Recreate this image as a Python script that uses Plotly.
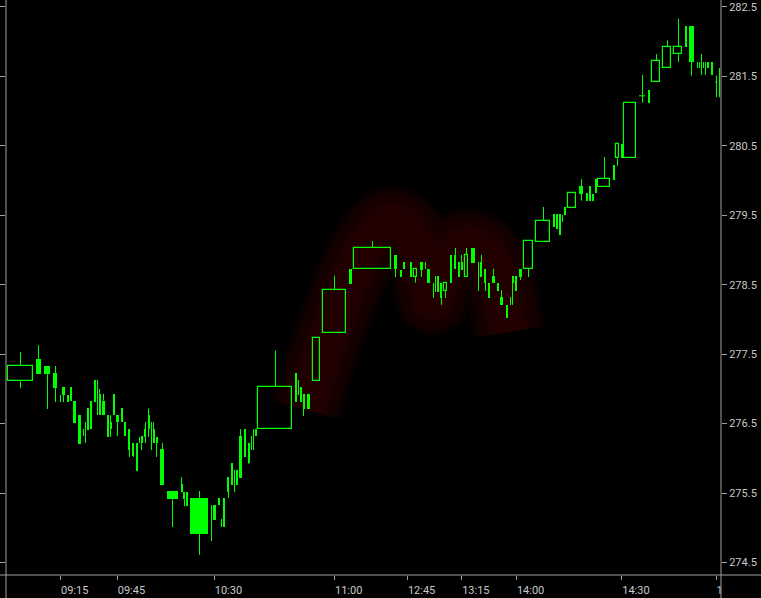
import numpy as np
import plotly.graph_objects as go

# ---------------- data ----------------
volume = [28, 8, 9, 7, 2, 5, 3, 3, 5, 5,
          2, 2, 3, 4, 3, 2, 3, 5, 3, 3,
          3, 5, 3, 4, 4, 4, 3, 2, 3, 4,
          3, 2, 2.5, 4.5, 7, 14, 2.5, 2.5, 4, 21,
          2, 5, 3, 2, 4, 4, 3, 2, 3, 5,
          4, 3, 2, 2, 3, 37, 3, 2, 2.5, 4.5,
          6, 10, 26, 5, 40, 6, 3, 3.5, 3.5, 4,
          6, 5, 2, 6, 2, 2, 3, 4, 6, 4,
          4, 2.5, 4.5, 6, 7, 2, 4, 4.5, 3.5, 5,
          2.5, 6.5, 4, 2, 3.5, 3.5, 5, 12, 17, 3,
          3, 3, 2, 4, 11, 7, 3, 3, 3, 3,
          15, 3, 5, 3, 15, 9, 4, 11, 11, 11,
          4, 8, 2, 2, 2, 2, 2, 4, 4, 4,
          3]

open_p = [277.11, 277.43, 277.33, 277.23, 276.91, 277.03, 276.91, 277.03, 276.83, 276.62,
          276.42, 276.22, 276.72, 276.83, 277.13, 277.13, 276.93, 276.83, 276.62, 276.52,
          276.93, 276.62, 276.72, 276.52, 276.42, 276.22, 276.22, 276.31, 276.22, 276.31,
          276.62, 276.52, 276.42, 276.31, 276.13, 275.53, 275.52, 275.41, 275.31, 275.43,
          275.33, 275.33, 275.43, 275.13, 275.43, 275.52, 275.93, 275.83, 275.83, 276.32,
          276.42, 276.22, 276.32, 276.42, 276.42, 276.42, 277.23, 277.13, 277.03, 276.93,
          276.93, 277.11, 277.81, 278.73, 278.73, 278.93, 278.71, 278.83, 278.78, 278.83,
          278.61, 278.83, 278.83, 278.73, 278.53, 278.63, 278.63, 278.53, 278.41, 278.93,
          278.93, 278.83, 278.83, 278.61, 279.03, 278.83, 278.83, 278.73, 278.53, 278.63,
          278.41, 278.32, 278.21, 278.32, 278.63, 278.63, 278.73, 278.73, 279.12, 279.52,
          279.52, 279.52, 279.50, 279.62, 279.60, 279.92, 279.82, 279.92, 279.81, 280.02,
          279.91, 280.22, 280.32, 280.53, 280.32, 281.22, 281.30, 281.42, 281.62, 281.82,
          282.23, 282.23, 281.71, 281.71, 281.82, 281.71, 281.71, 281.71, 281.71, 281.42,
          281.62]

high_p = [277.53, 277.63, 277.33, 277.33, 276.91, 277.03, 276.91, 277.03, 276.83, 276.62,
          276.42, 276.52, 276.72, 276.83, 277.13, 277.13, 277.00, 276.93, 276.62, 276.62,
          276.93, 276.62, 276.72, 276.52, 276.42, 276.22, 276.22, 276.31, 276.32, 276.52,
          276.72, 276.52, 276.52, 276.31, 276.22, 275.53, 275.73, 275.52, 275.52, 275.53,
          275.33, 275.33, 275.43, 275.13, 275.43, 275.73, 275.93, 275.83, 275.83, 276.42,
          276.42, 276.22, 276.32, 276.42, 276.42, 277.55, 277.23, 277.13, 277.03, 276.93,
          276.93, 277.73, 278.63, 278.73, 279.13, 278.93, 278.71, 278.83, 278.78, 278.83,
          278.73, 278.83, 278.83, 278.73, 278.53, 278.63, 278.63, 278.53, 278.53, 278.93,
          279.03, 278.83, 278.93, 279.03, 279.03, 278.83, 278.93, 278.73, 278.53, 278.73,
          278.53, 278.42, 278.21, 278.32, 278.63, 278.63, 278.73, 279.13, 279.62, 279.52,
          279.52, 279.52, 279.50, 279.62, 279.82, 280.02, 279.82, 279.92, 279.81, 280.02,
          280.34, 280.22, 280.53, 280.53, 281.12, 281.52, 281.30, 281.82, 282.02, 282.33,
          282.23, 282.23, 281.71, 281.71, 281.82, 281.71, 281.71, 281.71, 281.71, 281.51,
          281.62]

low_p = [277.01, 277.21, 276.71, 276.81, 276.81, 276.81, 276.81, 276.83, 276.51, 276.21,
         276.32, 276.22, 276.41, 276.42, 276.81, 276.62, 276.62, 276.62, 276.31, 276.31,
         276.62, 276.32, 276.52, 276.32, 276.02, 276.02, 275.82, 276.22, 276.12, 276.22,
         276.31, 276.12, 276.22, 276.02, 275.62, 275.01, 275.52, 275.31, 275.31, 274.61,
         274.81, 275.11, 275.33, 275.01, 275.01, 275.43, 275.62, 275.52, 275.62, 275.72,
         276.02, 275.92, 276.12, 276.12, 276.32, 276.42, 276.81, 276.91, 276.81, 276.61,
         276.71, 277.11, 277.81, 278.51, 278.73, 278.61, 278.61, 278.73, 278.78, 278.61,
         278.53, 278.61, 278.73, 278.53, 278.31, 278.40, 278.40, 278.21, 278.31, 278.53,
         278.73, 278.61, 278.71, 278.61, 278.81, 278.41, 278.61, 278.41, 278.31, 278.53,
         278.41, 278.21, 278.02, 278.21, 278.21, 278.41, 278.57, 278.61, 279.12, 279.33,
         279.30, 279.22, 279.40, 279.50, 279.60, 279.71, 279.71, 279.71, 279.71, 279.82,
         279.91, 280.01, 280.21, 280.32, 280.32, 281.12, 281.12, 281.42, 281.62, 281.71,
         281.92, 281.51, 281.62, 281.62, 281.52, 281.62, 281.52, 281.62, 281.52, 281.20,
         281.20]

close_p = [277.33, 277.21, 277.21, 277.01, 276.81, 276.91, 276.81, 276.83, 276.51, 276.21,
           276.32, 276.52, 276.41, 276.42, 276.81, 276.62, 276.62, 276.62, 276.31, 276.42,
           276.62, 276.52, 276.52, 276.32, 276.12, 276.03, 275.82, 276.22, 276.32, 276.42,
           276.42, 276.12, 276.22, 276.22, 275.62, 275.41, 275.63, 275.52, 275.52, 274.91,
           274.81, 275.11, 275.33, 275.01, 275.01, 275.73, 275.62, 275.52, 275.62, 275.72,
           276.02, 275.93, 276.12, 276.12, 276.32, 277.03, 276.81, 276.91, 276.81, 276.71,
           276.71, 277.73, 278.42, 278.51, 279.03, 278.73, 278.61, 278.73, 278.78, 278.61,
           278.73, 278.71, 278.73, 278.53, 278.31, 278.40, 278.40, 278.31, 278.53, 278.53,
           278.73, 278.61, 278.71, 278.93, 278.81, 278.41, 278.61, 278.53, 278.31, 278.53,
           278.53, 278.21, 278.02, 278.21, 278.53, 278.41, 278.61, 279.13, 279.42, 279.33,
           279.30, 279.22, 279.40, 279.50, 279.82, 279.81, 279.71, 279.71, 279.71, 279.82,
           280.02, 280.01, 280.53, 280.32, 281.12, 281.22, 281.12, 281.72, 281.92, 281.92,
           281.92, 281.71, 281.62, 281.62, 281.52, 281.62, 281.52, 281.62, 281.52, 281.42,
           281.62]

time_labels = ["09:15", "09:45", "10:30", "11:00", "12:45", "13:15", "14:00", "14:30", "1"]
time_label_candle = [4, 21, 41, 62, 68, 82, 95, 113, 129]

price_ticks = [274.5, 275.5, 276.5, 277.5, 278.5, 279.5, 280.5, 281.5, 282.5]
price_tick_text = ["274.5", "275.5", "276.5", "277.5", "278.5", "279.5", "280.5", "281.5", "282.5"]

assert len(volume) == len(open_p) == len(high_p) == len(low_p) == len(close_p)

# ---------------- styling ----------------
GREEN = "#00ff00"
AXIS = "#a0a0a0"
TEXT = "#c8c8c8"
FONT = "Roboto"
W, H = 761, 598
ML, MR, MT, MB = 6, 40, 0, 23
PW, PH = W - ML - MR, H - MT - MB

# ---------------- geometry from volume (equivolume layout) ----------------
vol = np.array(volume, dtype=float)
start = np.concatenate([[0.0], np.cumsum(vol)[:-1]])
bw = vol - np.minimum(3.0, vol / 2.0)
ctr = start + bw / 2.0
wick_x = np.floor(ctr) + 0.5          # snap wicks to pixel centres for crisp 1px lines
o = np.array(open_p); h = np.array(high_p); l = np.array(low_p); c = np.array(close_p)
top = np.maximum(o, c)
bot = np.minimum(o, c)
doji = (top - bot) < 1e-9
hollow = (c > o) & (bw >= 2.5)
filled = (~hollow) & (~doji)

wx, wy = [], []
for i in range(len(vol)):
    if h[i] > top[i]:
        wx += [wick_x[i], wick_x[i], None]; wy += [h[i], top[i], None]
    if bot[i] > l[i]:
        wx += [wick_x[i], wick_x[i], None]; wy += [bot[i], l[i], None]
    if doji[i] and bw[i] >= 2:
        wx += [start[i], start[i] + bw[i], None]; wy += [o[i], o[i], None]

fig = go.Figure()
fig.add_trace(go.Scatter(x=wx, y=wy, mode="lines", line=dict(color=GREEN, width=1),
                         hoverinfo="skip", showlegend=False))
fig.add_trace(go.Bar(x=ctr[filled], base=bot[filled], y=(top - bot)[filled], width=bw[filled],
                     marker=dict(color=GREEN, line=dict(width=0)), showlegend=False))
fig.add_trace(go.Bar(x=ctr[hollow], base=bot[hollow], y=(top - bot)[hollow], width=bw[hollow],
                     marker=dict(color="rgba(0,0,0,0)", line=dict(color=GREEN, width=1.2)),
                     showlegend=False))
# invisible trace on overlay axis to draw left-side ticks
fig.add_trace(go.Scatter(x=[ctr[0]], y=[price_ticks[0]], yaxis="y2", mode="markers",
                         marker=dict(opacity=0), hoverinfo="skip", showlegend=False))

tickvals_x = [ctr[i] for i in time_label_candle]

# ---------------- background glow (decoration, pixel -> paper) ----------------
glow_px = [(306, 410), (318, 368), (334, 322), (352, 275), (370, 240), (390, 222),
           (410, 232), (424, 262), (432, 300), (440, 275), (455, 250), (472, 245),
           (490, 258), (502, 290), (509, 332)]
pts = [((x - ML) / PW, (PH - (y - MT)) / PH) for x, y in glow_px]


def smooth(pts):
    d = "M%.5f,%.5f" % pts[0]
    for i in range(len(pts) - 1):
        p0 = pts[i - 1] if i > 0 else pts[i]
        p1, p2 = pts[i], pts[i + 1]
        p3 = pts[i + 2] if i + 2 < len(pts) else pts[i + 1]
        c1 = (p1[0] + (p2[0] - p0[0]) / 6, p1[1] + (p2[1] - p0[1]) / 6)
        c2 = (p2[0] - (p3[0] - p1[0]) / 6, p2[1] - (p3[1] - p1[1]) / 6)
        d += " C%.5f,%.5f %.5f,%.5f %.5f,%.5f" % (c1 + c2 + p2)
    return d


glow_path = smooth(pts)
shapes = []
for wdt in [72, 64, 56, 48, 40, 32, 24]:
    shapes.append(dict(type="path", path=glow_path, xref="paper", yref="paper",
                       line=dict(color="rgba(46,0,0,0.2)", width=wdt), layer="below"))
# frame lines
shapes += [
    dict(type="line", xref="paper", yref="paper", x0=0, x1=0, y0=-MB / PH, y1=1,
         line=dict(color=AXIS, width=1), layer="above"),
    dict(type="line", xref="paper", yref="paper", x0=1, x1=1, y0=-MB / PH, y1=1,
         line=dict(color=AXIS, width=1), layer="above"),
    dict(type="line", xref="paper", yref="paper", x0=-ML / PW, x1=(W - ML) / PW, y0=0, y1=0,
         line=dict(color=AXIS, width=1), layer="above"),
]

yr = [274.32, 282.60]
fig.update_layout(
    width=W, height=H,
    margin=dict(l=ML, r=MR, t=MT, b=MB, autoexpand=False),
    paper_bgcolor="black", plot_bgcolor="black",
    barmode="overlay", bargap=0,
    showlegend=False,
    font=dict(family=FONT, size=11, color=TEXT),
    shapes=shapes,
    xaxis=dict(range=[-2, PW - 2], showgrid=False, zeroline=False, showline=False,
               tickmode="array", tickvals=tickvals_x, ticktext=time_labels,
               ticks="outside", ticklen=4, tickcolor=AXIS, tickwidth=1,
               ticklabelposition="outside right", ticklabelstandoff=5,
               ticklabeloverflow="allow",
               tickfont=dict(family=FONT, size=11, color=TEXT)),
    yaxis=dict(range=yr, side="right", showgrid=False, zeroline=False, showline=False,
               tickmode="array", tickvals=price_ticks, ticktext=price_tick_text,
               ticks="outside", ticklen=5, tickcolor=AXIS, tickwidth=1,
               ticklabeloverflow="allow",
               tickfont=dict(family=FONT, size=11, color=TEXT)),
    yaxis2=dict(range=yr, overlaying="y", side="left", showgrid=False, zeroline=False,
                showline=False, tickmode="array", tickvals=price_ticks,
                ticks="outside", ticklen=6, tickcolor=AXIS, tickwidth=1,
                showticklabels=False),
)

fig.write_html("out.html", config={"displayModeBar": False},
               post_script="document.body.style.margin='0';document.body.style.overflow='hidden';")
